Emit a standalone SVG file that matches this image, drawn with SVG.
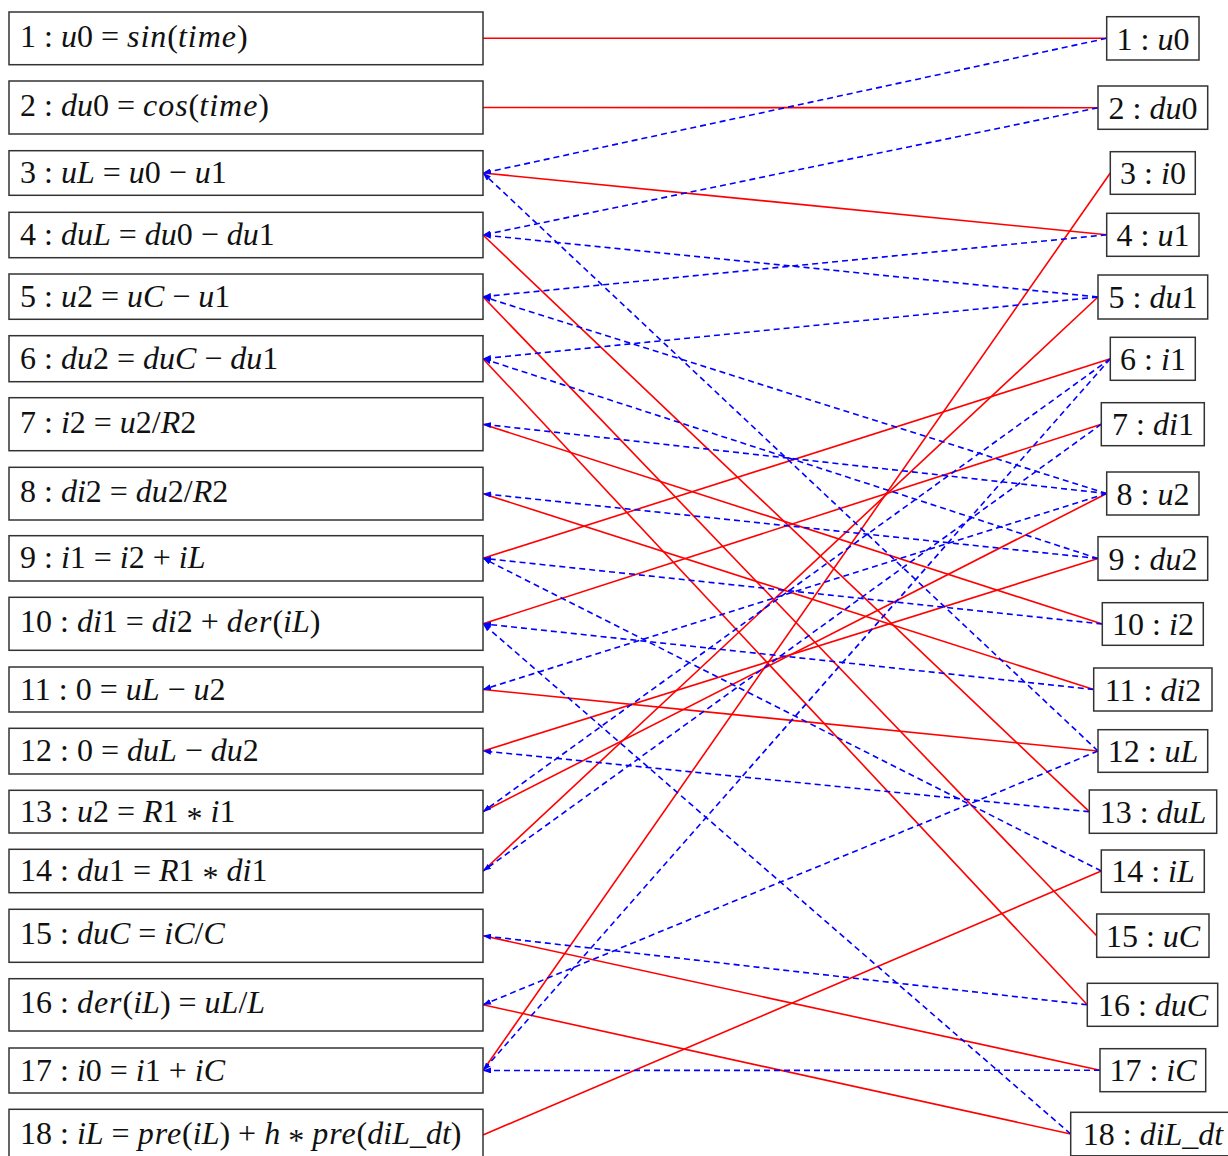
<svg xmlns="http://www.w3.org/2000/svg" width="1228" height="1156" viewBox="0 0 1228 1156">
<style>
.box{fill:#fff;stroke:#333;stroke-width:1.5}
text{font-family:"Liberation Serif","Times New Roman",serif;font-size:32px;fill:#111}
.r text{text-anchor:middle}
.i{font-style:italic}
.w{font-style:italic;letter-spacing:1px}
.m{stroke:#f00;stroke-width:1.6;fill:none}
.d{stroke:#00f;stroke-width:1.6;fill:none;stroke-dasharray:6,4}
</style>
<defs>
<marker id="ah" viewBox="0 0 8 6" refX="8" refY="3" markerWidth="8" markerHeight="6" markerUnits="userSpaceOnUse" orient="auto">
<path d="M0,0 L8,3 L0,6 z" fill="#00f"/>
</marker>
</defs>
<g id="connectors">
<line class="m" x1="483" y1="38.3" x2="1106.7" y2="38.3"/>
<line class="m" x1="483" y1="107.5" x2="1098" y2="107.7"/>
<line class="m" x1="483" y1="173" x2="1106.7" y2="234.8"/>
<line class="m" x1="483" y1="235" x2="1089.3" y2="811.7"/>
<line class="m" x1="483" y1="296.7" x2="1096.7" y2="935.7"/>
<line class="m" x1="483" y1="358.7" x2="1087.3" y2="1004.8"/>
<line class="m" x1="483" y1="424.2" x2="1102.3" y2="624"/>
<line class="m" x1="483" y1="493.7" x2="1093.7" y2="689.5"/>
<line class="m" x1="483" y1="558.3" x2="1110.3" y2="358.8"/>
<line class="m" x1="483" y1="623.8" x2="1101.3" y2="424.2"/>
<line class="m" x1="483" y1="689.5" x2="1098" y2="751"/>
<line class="m" x1="483" y1="751" x2="1098" y2="558.5"/>
<line class="m" x1="483" y1="811.7" x2="1106.7" y2="493.5"/>
<line class="m" x1="483" y1="871" x2="1098" y2="297"/>
<line class="m" x1="483" y1="935.8" x2="1100" y2="1070.2"/>
<line class="m" x1="483" y1="1004.8" x2="1070.7" y2="1134"/>
<line class="m" x1="483" y1="1070.5" x2="1110.3" y2="173"/>
<line class="m" x1="483" y1="1135" x2="1101.3" y2="871"/>

<line class="d" marker-end="url(#ah)" x1="1106.7" y1="38.3" x2="483" y2="173"/>
<line class="d" marker-end="url(#ah)" x1="1098" y1="751" x2="483" y2="173"/>
<line class="d" marker-end="url(#ah)" x1="1098" y1="107.7" x2="483" y2="235"/>
<line class="d" marker-end="url(#ah)" x1="1098" y1="297" x2="483" y2="235"/>
<line class="d" marker-end="url(#ah)" x1="1106.7" y1="234.8" x2="483" y2="296.7"/>
<line class="d" marker-end="url(#ah)" x1="1106.7" y1="493.5" x2="483" y2="296.7"/>
<line class="d" marker-end="url(#ah)" x1="1098" y1="297" x2="483" y2="358.7"/>
<line class="d" marker-end="url(#ah)" x1="1098" y1="558.5" x2="483" y2="358.7"/>
<line class="d" marker-end="url(#ah)" x1="1106.7" y1="493.5" x2="483" y2="424.2"/>
<line class="d" marker-end="url(#ah)" x1="1098" y1="558.5" x2="483" y2="493.7"/>
<line class="d" marker-end="url(#ah)" x1="1102.3" y1="624" x2="483" y2="558.3"/>
<line class="d" marker-end="url(#ah)" x1="1101.3" y1="871" x2="483" y2="558.3"/>
<line class="d" marker-end="url(#ah)" x1="1093.7" y1="689.5" x2="483" y2="623.8"/>
<line class="d" marker-end="url(#ah)" x1="1070.7" y1="1134" x2="483" y2="623.8"/>
<line class="d" marker-end="url(#ah)" x1="1106.7" y1="493.5" x2="483" y2="689.5"/>
<line class="d" marker-end="url(#ah)" x1="1089.3" y1="811.7" x2="483" y2="751"/>
<line class="d" marker-end="url(#ah)" x1="1110.3" y1="358.8" x2="483" y2="811.7"/>
<line class="d" marker-end="url(#ah)" x1="1101.3" y1="424.2" x2="483" y2="871"/>
<line class="d" marker-end="url(#ah)" x1="1087.3" y1="1004.8" x2="483" y2="935.8"/>
<line class="d" marker-end="url(#ah)" x1="1098" y1="751" x2="483" y2="1004.8"/>
<line class="d" marker-end="url(#ah)" x1="1110.3" y1="358.8" x2="483" y2="1070.5"/>
<line class="d" marker-end="url(#ah)" x1="1100" y1="1070.2" x2="483" y2="1070.5"/>
</g>

<g id="L1"><rect class="box" x="9" y="12" width="474" height="52.7"/><text x="20" y="46.7">1 : <tspan class="i">u</tspan>0 = <tspan class="w">sin</tspan>(<tspan class="w">time</tspan>)</text></g>
<g id="L2"><rect class="box" x="9" y="81" width="474" height="53"/><text x="20" y="115.7">2 : <tspan class="i">du</tspan>0 = <tspan class="w">cos</tspan>(<tspan class="w">time</tspan>)</text></g>
<g id="L3"><rect class="box" x="9" y="150.7" width="474" height="44.6"/><text x="20" y="183.3">3 : <tspan class="i">uL</tspan> = <tspan class="i">u</tspan>0 − <tspan class="i">u</tspan>1</text></g>
<g id="L4"><rect class="box" x="9" y="212.3" width="474" height="45.4"/><text x="20" y="245">4 : <tspan class="i">duL</tspan> = <tspan class="i">du</tspan>0 − <tspan class="i">du</tspan>1</text></g>
<g id="L5"><rect class="box" x="9" y="274" width="474" height="45.3"/><text x="20" y="306.7">5 : <tspan class="i">u</tspan>2 = <tspan class="i">uC</tspan> − <tspan class="i">u</tspan>1</text></g>
<g id="L6"><rect class="box" x="9" y="335.7" width="474" height="46"/><text x="20" y="368.5">6 : <tspan class="i">du</tspan>2 = <tspan class="i">duC</tspan> − <tspan class="i">du</tspan>1</text></g>
<g id="L7"><rect class="box" x="9" y="397.7" width="474" height="53"/><text x="20" y="432.7">7 : <tspan class="i">i</tspan>2 = <tspan class="i">u</tspan>2/<tspan class="i">R</tspan>2</text></g>
<g id="L8"><rect class="box" x="9" y="467.3" width="474" height="52.7"/><text x="20" y="502">8 : <tspan class="i">di</tspan>2 = <tspan class="i">du</tspan>2/<tspan class="i">R</tspan>2</text></g>
<g id="L9"><rect class="box" x="9" y="535.7" width="474" height="45.3"/><text x="20" y="568.3">9 : <tspan class="i">i</tspan>1 = <tspan class="i">i</tspan>2 + <tspan class="i">iL</tspan></text></g>
<g id="L10"><rect class="box" x="9" y="597.3" width="474" height="53"/><text x="20" y="632">10 : <tspan class="i">di</tspan>1 = <tspan class="i">di</tspan>2 + <tspan class="w">der</tspan>(<tspan class="i">iL</tspan>)</text></g>
<g id="L11"><rect class="box" x="9" y="667" width="474" height="45"/><text x="20" y="699.5">11 : 0 = <tspan class="i">uL</tspan> − <tspan class="i">u</tspan>2</text></g>
<g id="L12"><rect class="box" x="9" y="728.3" width="474" height="45.7"/><text x="20" y="761">12 : 0 = <tspan class="i">duL</tspan> − <tspan class="i">du</tspan>2</text></g>
<g id="L13"><rect class="box" x="9" y="790.3" width="474" height="42.7"/><text x="20" y="821.7">13 : <tspan class="i">u</tspan>2 = <tspan class="i">R</tspan>1 <tspan dy="7">*</tspan><tspan dy="-7"> </tspan><tspan class="i">i</tspan>1</text></g>
<g id="L14"><rect class="box" x="9" y="849.3" width="474" height="43.4"/><text x="20" y="881">14 : <tspan class="i">du</tspan>1 = <tspan class="i">R</tspan>1 <tspan dy="7">*</tspan><tspan dy="-7"> </tspan><tspan class="i">di</tspan>1</text></g>
<g id="L15"><rect class="box" x="9" y="909.3" width="474" height="53"/><text x="20" y="944">15 : <tspan class="i">duC</tspan> = <tspan class="i">iC</tspan>/<tspan class="i">C</tspan></text></g>
<g id="L16"><rect class="box" x="9" y="978.7" width="474" height="52.3"/><text x="20" y="1013.3">16 : <tspan class="w">der</tspan>(<tspan class="i">iL</tspan>) = <tspan class="i">uL</tspan>/<tspan class="i">L</tspan></text></g>
<g id="L17"><rect class="box" x="9" y="1048" width="474" height="45"/><text x="20" y="1080.5">17 : <tspan class="i">i</tspan>0 = <tspan class="i">i</tspan>1 + <tspan class="i">iC</tspan></text></g>
<g id="L18"><rect class="box" x="9" y="1109.3" width="474" height="53"/><text x="20" y="1144">18 : <tspan class="i">iL</tspan> = <tspan class="w">pre</tspan>(<tspan class="i">iL</tspan>) + <tspan class="i">h</tspan> <tspan dy="7">*</tspan><tspan dy="-7"> </tspan><tspan class="w">pre</tspan>(<tspan class="i">diL_dt</tspan>)</text></g>

<g class="r">
<g id="R1"><rect class="box" x="1106.7" y="16.7" width="92.3" height="43.3"/><text x="1153" y="49.5">1 : <tspan class="i">u</tspan>0</text></g>
<g id="R2"><rect class="box" x="1098" y="86" width="109.7" height="43.3"/><text x="1153" y="118.8">2 : <tspan class="i">du</tspan>0</text></g>
<g id="R3"><rect class="box" x="1110.3" y="151.7" width="85" height="42.6"/><text x="1153" y="184.3">3 : <tspan class="i">i</tspan>0</text></g>
<g id="R4"><rect class="box" x="1106.7" y="213.3" width="92.3" height="43"/><text x="1153" y="246">4 : <tspan class="i">u</tspan>1</text></g>
<g id="R5"><rect class="box" x="1098" y="275" width="109.7" height="44"/><text x="1153" y="308">5 : <tspan class="i">du</tspan>1</text></g>
<g id="R6"><rect class="box" x="1110.3" y="337.3" width="85" height="43"/><text x="1153" y="370">6 : <tspan class="i">i</tspan>1</text></g>
<g id="R7"><rect class="box" x="1101.3" y="402.7" width="103" height="43"/><text x="1153" y="435.4">7 : <tspan class="i">di</tspan>1</text></g>
<g id="R8"><rect class="box" x="1106.7" y="472" width="92.3" height="43"/><text x="1153" y="504.7">8 : <tspan class="i">u</tspan>2</text></g>
<g id="R9"><rect class="box" x="1098" y="536.7" width="109.7" height="43.6"/><text x="1153" y="569.7">9 : <tspan class="i">du</tspan>2</text></g>
<g id="R10"><rect class="box" x="1102.3" y="602.7" width="101" height="42.6"/><text x="1153" y="635.3">10 : <tspan class="i">i</tspan>2</text></g>
<g id="R11"><rect class="box" x="1093.7" y="668" width="118.3" height="43"/><text x="1153" y="700.7">11 : <tspan class="i">di</tspan>2</text></g>
<g id="R12"><rect class="box" x="1098" y="729.7" width="109.7" height="42.6"/><text x="1153" y="762.3">12 : <tspan class="i">uL</tspan></text></g>
<g id="R13"><rect class="box" x="1089.3" y="790" width="127.4" height="43.3"/><text x="1153" y="822.9">13 : <tspan class="i">duL</tspan></text></g>
<g id="R14"><rect class="box" x="1101.3" y="850" width="103" height="42.3"/><text x="1153" y="882.3">14 : <tspan class="i">iL</tspan></text></g>
<g id="R15"><rect class="box" x="1096.7" y="914" width="112.3" height="43.3"/><text x="1153" y="946.9">15 : <tspan class="i">uC</tspan></text></g>
<g id="R16"><rect class="box" x="1087.3" y="983.3" width="130.4" height="43"/><text x="1153" y="1016">16 : <tspan class="i">duC</tspan></text></g>
<g id="R17"><rect class="box" x="1100" y="1048.7" width="105.7" height="43"/><text x="1153" y="1081.4">17 : <tspan class="i">iC</tspan></text></g>
<g id="R18"><rect class="box" x="1070.7" y="1112.3" width="164" height="43.5"/><text x="1153" y="1145">18 : <tspan class="i">diL_dt</tspan></text></g>
</g>
</svg>
